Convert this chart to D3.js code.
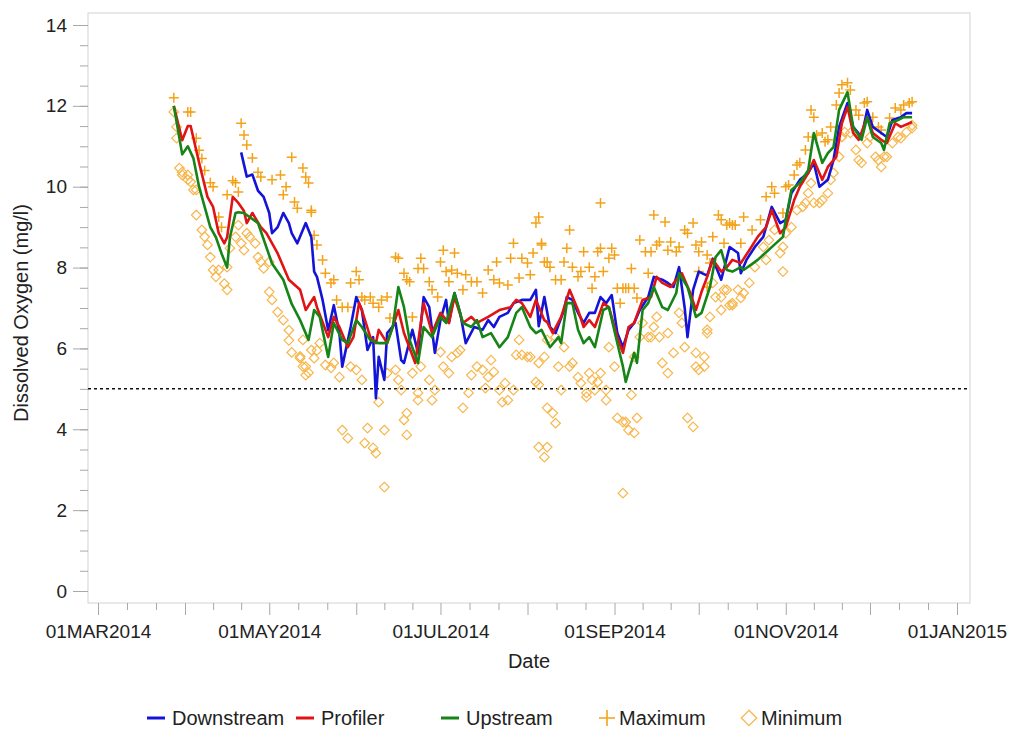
<!DOCTYPE html>
<html>
<head>
<meta charset="utf-8">
<script src="https://cdn.jsdelivr.net/npm/d3@7"></script>
<style>
  body { margin: 0; background: #fff; }
  text { font-family: "Liberation Sans", Arial, sans-serif; fill: #222; }
</style>
</head>
<body>
<svg id="chart" width="1011" height="730"></svg>
<script>
// day numbers are days after 01MAR2014
var startDate = new Date(2014, 2, 1);

var downstream = [[51,10.85],[53,10.25],[55,10.3],[57,9.9],[59,9.75],[61,9.35],[62,8.85],[64,9.0],[66,9.35],[68,9.1],[69,8.85],[71,8.6],[74,9.1],[76,8.75],[77,7.9],[78,7.77],[80,7.2],[82,6.45],[84,7.07],[86,6.38],[87,5.55],[90,6.53],[92,7.27],[94,6.95],[96,5.96],[98,6.28],[99,4.77],[100,5.79],[102,5.22],[103,6.38],[106,6.63],[108,5.71],[109,5.64],[112,6.46],[114,5.89],[116,7.27],[118,7.02],[120,5.89],[122,6.7],[124,7.2],[125,6.63],[127,7.37],[129,6.88],[131,6.13],[134,6.53],[137,6.46],[139,6.7],[141,6.53],[143,6.78],[146,6.88],[148,7.12],[151,7.2],[154,7.2],[156,7.45],[157,6.55],[159,7.27],[161,6.53],[163,6.38],[166,6.95],[167,7.27],[169,7.2],[171,6.88],[173,6.63],[175,6.88],[177,6.88],[179,7.27],[181,7.12],[183,7.32],[185,6.38],[187,6.03],[189,6.46],[191,6.63],[193,6.95],[196,7.27],[198,7.77],[201,7.7],[203,7.62],[205,7.52],[207,8.01],[209,7.0],[210,6.28],[212,7.45],[214,7.9],[217,7.8],[219,8.22],[222,7.7],[225,8.51],[228,8.36],[229,7.86],[231,8.19],[234,8.51],[237,8.76],[240,9.5],[243,9.1],[245,9.18],[247,9.84],[250,10.17],[253,10.34],[255,10.59],[257,10.0],[260,10.17],[262,10.66],[264,11.48],[267,12.07],[269,11.48],[272,11.23],[274,11.9],[276,11.48],[279,11.33],[281,11.23],[283,11.65],[286,11.72],[288,11.82],[290,11.82]];

var profiler = [[27,12.0],[30,11.15],[32,11.5],[33,11.5],[36,10.6],[39,9.75],[41,9.5],[43,8.85],[45,8.6],[46,8.75],[48,9.75],[50,9.6],[52,9.4],[53,9.1],[55,9.35],[58,9.0],[60,8.85],[64,8.35],[68,7.7],[72,7.45],[74,6.95],[77,7.27],[78,7.02],[82,6.28],[84,6.78],[86,6.53],[89,6.03],[91,6.28],[93,7.12],[94,6.95],[97,6.28],[99,6.13],[100,6.46],[103,6.13],[107,6.95],[109,6.38],[113,5.64],[116,7.12],[119,6.38],[122,6.88],[125,6.63],[127,7.27],[130,6.63],[133,6.78],[135,6.63],[139,6.78],[143,6.95],[147,7.02],[149,7.2],[151,7.12],[154,6.78],[156,7.2],[159,6.7],[160,6.65],[162,6.38],[165,6.78],[168,7.45],[171,6.95],[173,6.53],[175,6.7],[177,6.53],[180,7.12],[182,7.02],[185,6.28],[187,5.89],[189,6.53],[191,6.63],[194,7.2],[197,7.27],[199,7.77],[201,7.62],[204,7.52],[206,7.7],[208,7.86],[211,7.37],[213,6.95],[215,7.4],[217,7.77],[219,8.2],[222,7.9],[224,8.01],[226,8.19],[229,8.11],[232,8.43],[235,8.76],[238,9.0],[240,9.42],[243,8.85],[245,9.0],[248,9.67],[250,10.0],[253,10.34],[255,10.66],[258,10.17],[260,10.49],[263,10.74],[265,11.57],[267,11.97],[269,11.33],[271,11.16],[274,11.72],[276,11.33],[279,11.16],[281,11.08],[284,11.57],[286,11.48],[290,11.6]];

var upstream = [[27,12.0],[30,10.8],[32,11.0],[34,10.7],[36,10.0],[38,9.5],[40,9.0],[42,8.75],[44,8.35],[46,8.0],[47,8.75],[49,9.35],[50,9.37],[52,9.35],[54,9.25],[57,9.1],[59,8.7],[62,8.1],[66,7.7],[69,7.1],[72,6.7],[75,6.21],[77,6.95],[79,6.78],[82,5.79],[84,6.63],[87,6.21],[89,6.13],[92,6.7],[94,6.53],[97,6.21],[100,6.13],[103,6.13],[105,6.53],[107,7.52],[109,7.02],[111,6.21],[114,5.64],[116,6.53],[119,6.28],[122,6.78],[124,6.63],[127,7.37],[130,6.63],[133,6.53],[135,6.7],[137,6.28],[140,6.38],[143,6.03],[146,6.28],[149,6.88],[151,7.02],[154,6.53],[156,6.38],[158,6.46],[161,6.03],[164,6.28],[165,6.13],[167,7.12],[169,7.12],[171,6.46],[173,6.13],[175,6.28],[177,6.03],[180,6.95],[182,7.02],[185,6.13],[187,5.55],[188,5.17],[191,5.89],[192,5.64],[194,6.95],[196,7.12],[198,7.52],[201,7.02],[203,6.95],[206,7.37],[207,7.86],[210,7.52],[213,6.78],[215,6.88],[218,7.52],[220,8.26],[222,8.43],[224,7.94],[226,7.9],[229,8.01],[230,7.94],[235,8.19],[244,8.76],[245,9.18],[247,9.92],[250,10.09],[253,10.41],[255,11.33],[258,10.59],[260,10.83],[262,10.98],[264,11.9],[267,12.34],[269,11.48],[272,11.16],[274,11.72],[276,11.23],[279,11.08],[280,10.91],[282,11.57],[285,11.65],[287,11.72],[290,11.72]];

var maxima = [[27,12.2],[32,11.85],[33,11.85],[35,11.2],[36,10.9],[37,10.7],[38,10.4],[40,10.1],[41,10.0],[43,9.25],[44,9.0],[46,9.8],[48,10.15],[49,10.1],[50,9.87],[51,11.57],[52,11.28],[53,11.03],[55,10.71],[57,10.36],[58,10.24],[62,10.17],[65,10.29],[66,9.8],[67,10.0],[69,10.73],[70,9.62],[71,9.47],[73,10.46],[74,10.24],[75,10.09],[76,9.42],[76,9.37],[77,8.8],[78,8.56],[80,8.19],[81,7.86],[83,7.62],[84,7.7],[85,7.2],[87,7.02],[89,7.02],[90,7.62],[92,7.9],[93,7.7],[94,7.27],[95,7.2],[97,7.27],[98,7.12],[100,7.02],[101,7.2],[103,7.27],[104,6.75],[106,8.26],[107,8.23],[109,7.86],[110,7.7],[111,7.65],[112,6.78],[114,7.98],[115,8.23],[116,7.98],[118,7.65],[119,7.45],[121,7.27],[122,8.14],[123,8.43],[124,7.9],[125,7.65],[126,7.94],[127,8.36],[128,7.86],[130,7.45],[131,7.82],[133,7.65],[135,7.65],[137,7.37],[139,7.94],[141,7.7],[142,8.14],[143,7.62],[146,7.57],[147,8.23],[148,8.6],[150,7.74],[151,8.23],[153,8.11],[154,7.82],[155,8.36],[156,9.1],[157,9.25],[158,8.6],[158,8.56],[159,8.14],[160,8.14],[161,8.01],[163,7.7],[165,7.7],[166,8.14],[167,8.48],[168,8.93],[169,8.01],[171,7.77],[172,7.9],[173,8.39],[175,8.01],[176,7.49],[177,7.77],[178,8.39],[179,8.48],[179,9.6],[180,7.9],[182,8.23],[183,8.48],[184,8.31],[185,7.49],[186,7.12],[187,7.49],[188,7.49],[189,7.49],[190,7.98],[191,7.49],[192,7.25],[193,8.68],[195,8.39],[196,7.86],[197,8.39],[198,9.3],[199,8.56],[200,8.63],[202,9.13],[203,8.43],[204,8.63],[206,8.39],[207,8.51],[209,8.93],[210,8.85],[212,9.1],[213,8.56],[214,8.39],[214,7.9],[215,8.63],[217,8.31],[217,7.52],[218,8.11],[219,8.76],[221,9.3],[222,9.18],[223,8.6],[224,9.05],[225,9.1],[226,9.05],[227,9.05],[229,8.6],[230,9.25],[233,8.93],[236,9.18],[238,9.75],[240,10.0],[241,9.84],[244,9.35],[245,10.0],[246,10.04],[248,10.29],[249,10.54],[250,10.59],[252,10.91],[253,11.23],[254,11.9],[255,11.72],[256,11.28],[258,11.33],[259,11.11],[260,11.16],[261,11.48],[263,12.02],[264,12.32],[265,12.52],[267,12.57],[268,12.39],[270,11.9],[271,11.77],[273,12.07],[274,12.1],[276,11.72],[278,11.48],[279,11.4],[282,11.7],[284,11.95],[286,11.9],[287,12.02],[289,12.07],[290,12.1]];

var minima = [[27,11.85],[28,11.48],[28,11.2],[29,10.46],[30,10.36],[30,10.29],[32,10.29],[32,10.17],[33,10.12],[34,9.92],[35,9.92],[35,9.3],[37,8.93],[38,8.76],[39,8.56],[40,8.26],[41,7.94],[42,7.77],[43,7.94],[45,7.6],[46,7.45],[46,8.01],[47,8.48],[49,8.76],[50,9.05],[51,8.6],[52,8.43],[53,8.85],[54,8.76],[56,8.6],[57,8.26],[58,8.14],[59,7.98],[61,8.14],[61,7.4],[62,7.2],[64,6.9],[66,6.7],[68,6.45],[68,6.2],[69,5.9],[72,5.8],[72,5.76],[73,5.55],[73,6.21],[74,5.34],[74,5.55],[75,5.4],[76,5.96],[77,5.76],[78,5.95],[79,6.13],[81,5.59],[83,5.52],[84,5.64],[86,5.29],[87,3.98],[89,3.78],[90,5.55],[92,5.47],[94,5.22],[95,3.66],[96,4.03],[98,3.54],[99,3.41],[100,4.67],[102,3.98],[102,2.57],[103,5.39],[106,5.47],[107,5.22],[108,4.97],[109,4.23],[110,4.4],[110,3.86],[112,5.39],[114,4.9],[114,4.72],[115,5.55],[118,5.22],[119,4.72],[120,4.97],[122,5.91],[123,5.55],[125,5.39],[126,5.79],[128,5.89],[129,5.96],[130,4.53],[132,4.9],[133,5.34],[135,5.55],[137,5.47],[138,5.02],[139,5.29],[140,5.71],[141,5.42],[143,4.97],[144,4.67],[145,5.14],[146,4.72],[148,4.97],[149,5.84],[150,6.21],[151,5.84],[153,5.79],[154,5.79],[156,5.17],[157,5.1],[157,3.56],[157,5.64],[159,3.31],[159,5.79],[160,4.53],[160,3.56],[160,6.21],[162,4.4],[163,4.15],[163,6.28],[164,5.55],[165,4.97],[166,6.03],[168,5.55],[169,5.64],[171,5.29],[172,5.14],[174,4.9],[174,4.8],[175,5.39],[176,5.22],[177,4.97],[178,5.17],[179,5.39],[181,4.97],[181,4.72],[182,6.03],[184,5.55],[185,4.28],[187,4.18],[187,2.42],[188,4.18],[189,3.98],[190,4.85],[191,3.91],[191,5.79],[192,4.28],[193,6.28],[194,6.63],[196,6.28],[197,6.28],[198,6.53],[199,6.78],[200,6.28],[201,5.64],[203,6.38],[203,5.39],[205,5.89],[207,6.88],[208,6.63],[209,6.03],[210,4.28],[212,4.06],[213,5.89],[213,5.55],[214,5.47],[216,5.55],[216,5.79],[217,6.46],[217,6.38],[218,6.78],[219,7.62],[220,7.27],[222,7.27],[222,6.95],[223,7.45],[224,7.45],[225,7.07],[226,7.07],[226,7.12],[228,7.45],[229,7.25],[230,7.37],[232,7.62],[234,8.01],[237,8.51],[238,8.19],[239,8.68],[241,8.93],[243,8.36],[244,8.51],[244,7.9],[245,8.85],[247,9.0],[249,9.42],[251,9.5],[252,9.6],[253,9.84],[254,10.09],[255,9.6],[257,9.6],[258,9.67],[260,9.84],[261,10.17],[262,10.34],[264,10.74],[265,11.23],[266,11.35],[268,11.33],[270,10.91],[271,10.66],[272,10.59],[274,11.08],[275,11.23],[277,10.74],[278,10.66],[279,10.49],[280,10.74],[281,10.74],[283,11.08],[285,11.23],[286,11.2],[288,11.35],[290,11.45],[290,11.52]];

var yTicks = [0, 2, 4, 6, 8, 10, 12, 14];
var refLevel = 5;
var lineNames = ["Downstream", "Profiler", "Upstream"];
var lineColors = ["#1414d8", "#e01414", "#168416"];
var maxColor = "#f4a21a", minColor = "#f7b64c";

var svg = d3.select("#chart"),
    margin = {left: 88, top: 13, right: 41, bottom: 127},
    width = +svg.attr("width") - margin.left - margin.right,
    height = +svg.attr("height") - margin.top - margin.bottom;

var g = svg.append("g").attr("transform", "translate(" + margin.left + "," + margin.top + ")");

var xScale = d3.scaleTime()
    .domain([startDate, new Date(2015, 0, 1)])
    .range([10, 869]);
var yScale = d3.scaleLinear().domain([0, 14]).range([578, 12]);

function day(t) { return d3.timeDay.offset(startDate, t); }

// frame
g.append("rect").attr("width", width).attr("height", height)
    .attr("fill", "none").attr("stroke", "#d2d2d2");

// x axis: monthly major ticks, labels every other month, minor ticks in thirds
var months = d3.timeMonth.range(startDate, new Date(2015, 0, 2));
var fmt = d3.timeFormat("%d%b%Y");
var minor = [];
months.slice(0, -1).forEach(function(m) {
    var next = d3.timeMonth.offset(m, 1);
    [1, 2].forEach(function(k) { minor.push(new Date(+m + (next - m) * k / 3)); });
});

var xMinor = g.append("g").attr("transform", "translate(0," + height + ")")
    .call(d3.axisBottom(xScale).tickValues(minor).tickSize(7).tickFormat(""));
var xMajor = g.append("g").attr("transform", "translate(0," + height + ")")
    .call(d3.axisBottom(xScale).tickValues(months).tickSize(12).tickPadding(10)
        .tickFormat(function(d, i) { return i % 2 === 0 ? fmt(d).toUpperCase() : ""; }));

var yMinor = g.append("g")
    .call(d3.axisLeft(yScale).tickValues(d3.range(0, 14.01, 0.5)).tickSize(8).tickFormat(""));
var yMajor = g.append("g")
    .call(d3.axisLeft(yScale).tickValues(yTicks).tickSize(15).tickPadding(6));

[xMinor, xMajor, yMinor, yMajor].forEach(function(a) {
    a.select(".domain").remove();
    a.selectAll("line").attr("stroke", "#a8a8a8");
    a.selectAll("text").attr("font-size", "19px").attr("fill", "#222")
        .style("font-family", "'Liberation Sans', Arial, sans-serif");
});

// axis titles
g.append("text").attr("x", width / 2).attr("y", 655)
    .attr("text-anchor", "middle").attr("font-size", "20px").text("Date");
g.append("text").attr("transform", "translate(-60," + (yScale(7) + 5) + ") rotate(-90)")
    .attr("text-anchor", "middle").attr("font-size", "20px").text("Dissolved Oxygen (mg/l)");

// reference line
g.append("line").attr("x1", 0).attr("x2", width)
    .attr("y1", yScale(refLevel)).attr("y2", yScale(refLevel))
    .attr("stroke", "#111").attr("stroke-width", 1.5).attr("stroke-dasharray", "3,3");

// markers
var plusPath = "M-5,0H5M0,-5V5";
var diamondPath = "M0,-4.8L4.8,0L0,4.8L-4.8,0Z";

g.selectAll(".minpt").data(minima).enter().append("path")
    .attr("class", "minpt")
    .attr("transform", function(d) { return "translate(" + xScale(day(d[0])) + "," + yScale(d[1]) + ")"; })
    .attr("d", diamondPath).attr("fill", "none")
    .attr("stroke", minColor).attr("stroke-width", 1.2);

g.selectAll(".maxpt").data(maxima).enter().append("path")
    .attr("class", "maxpt")
    .attr("transform", function(d) { return "translate(" + xScale(day(d[0])) + "," + yScale(d[1]) + ")"; })
    .attr("d", plusPath).attr("fill", "none")
    .attr("stroke", maxColor).attr("stroke-width", 1.5);

// lines
var line = d3.line()
    .x(function(d) { return xScale(day(d[0])); })
    .y(function(d) { return yScale(d[1]); });

[downstream, profiler, upstream].forEach(function(series, i) {
    g.append("path").datum(series)
        .attr("d", line).attr("fill", "none")
        .attr("stroke", lineColors[i]).attr("stroke-width", 2.6)
        .attr("stroke-linejoin", "round");
});

// legend
var legendY = 718;
var legendItems = [
    {type: "line", color: lineColors[0], x: 147, label: lineNames[0]},
    {type: "line", color: lineColors[1], x: 296, label: lineNames[1]},
    {type: "line", color: lineColors[2], x: 441, label: lineNames[2]},
    {type: "plus", color: maxColor, x: 598, label: "Maximum"},
    {type: "diamond", color: minColor, x: 740, label: "Minimum"}
];
var legend = svg.append("g");
legendItems.forEach(function(it) {
    if (it.type === "line") {
        legend.append("line").attr("x1", it.x).attr("x2", it.x + 18)
            .attr("y1", legendY).attr("y2", legendY)
            .attr("stroke", it.color).attr("stroke-width", 3);
    } else {
        legend.append("path")
            .attr("transform", "translate(" + (it.x + 9) + "," + legendY + ") scale(1.6)")
            .attr("d", it.type === "plus" ? plusPath : diamondPath)
            .attr("fill", "none").attr("stroke", it.color)
            .attr("stroke-width", it.type === "plus" ? 1 : 0.8);
    }
    legend.append("text").attr("x", it.x + (it.type === "line" ? 25 : 21)).attr("y", legendY + 7)
        .attr("font-size", "20px").text(it.label);
});
</script>
</body>
</html>
